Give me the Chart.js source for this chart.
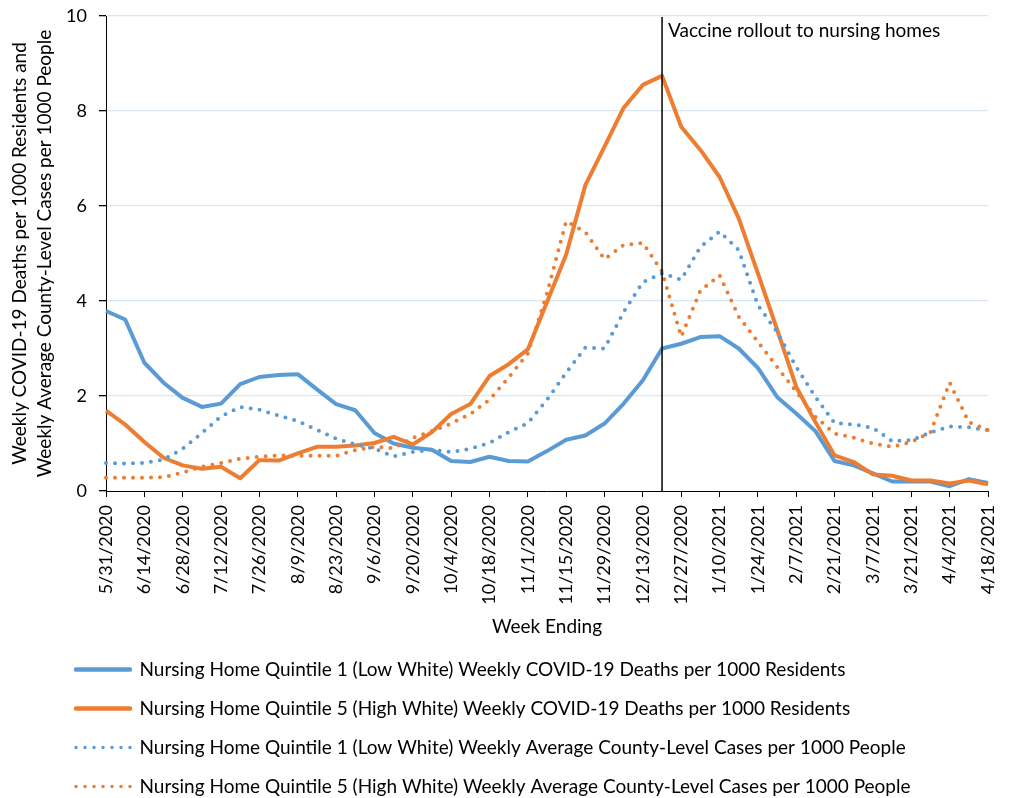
<!DOCTYPE html>
<html><head><meta charset="utf-8">
<script src="https://cdn.jsdelivr.net/npm/chart.js@4.4.1/dist/chart.umd.min.js"></script>
<style>html,body{margin:0;padding:0;background:#fff;}#wrap{width:1011px;height:798px;position:relative;}</style>
</head><body><div id="wrap"><canvas id="c" width="1011" height="798"></canvas></div>
<script>
const weekEnding = ['5/31/2020','6/7/2020','6/14/2020','6/21/2020','6/28/2020','7/5/2020','7/12/2020','7/19/2020','7/26/2020','8/2/2020','8/9/2020','8/16/2020','8/23/2020','8/30/2020','9/6/2020','9/13/2020','9/20/2020','9/27/2020','10/4/2020','10/11/2020','10/18/2020','10/25/2020','11/1/2020','11/8/2020','11/15/2020','11/22/2020','11/29/2020','12/6/2020','12/13/2020','12/20/2020','12/27/2020','1/3/2021','1/10/2021','1/17/2021','1/24/2021','1/31/2021','2/7/2021','2/14/2021','2/21/2021','2/28/2021','3/7/2021','3/14/2021','3/21/2021','3/28/2021','4/4/2021','4/11/2021','4/18/2021'];
const q1Deaths = [3.79,3.61,2.70,2.28,1.96,1.77,1.84,2.25,2.40,2.44,2.46,2.14,1.83,1.70,1.22,1.00,0.91,0.87,0.63,0.61,0.72,0.63,0.62,0.84,1.08,1.17,1.42,1.84,2.33,3.00,3.10,3.24,3.26,3.00,2.59,1.98,1.63,1.26,0.63,0.54,0.37,0.20,0.20,0.20,0.10,0.25,0.17];
const q5Deaths = [1.69,1.40,1.03,0.70,0.54,0.47,0.51,0.27,0.65,0.64,0.79,0.93,0.93,0.96,1.01,1.14,0.98,1.24,1.62,1.83,2.42,2.67,2.98,3.98,4.98,6.44,7.25,8.07,8.55,8.74,7.67,7.18,6.61,5.74,4.58,3.40,2.19,1.45,0.75,0.61,0.35,0.32,0.22,0.22,0.16,0.22,0.14];
const q1Cases = [0.59,0.58,0.59,0.66,0.89,1.22,1.57,1.77,1.71,1.59,1.47,1.29,1.10,0.98,0.89,0.73,0.82,0.87,0.82,0.89,1.01,1.24,1.43,1.92,2.49,3.02,3.00,3.77,4.40,4.58,4.45,5.14,5.46,5.07,3.91,3.35,2.61,1.98,1.43,1.40,1.33,1.05,1.07,1.23,1.36,1.34,1.28];
const q5Cases = [0.28,0.28,0.28,0.29,0.39,0.51,0.59,0.68,0.72,0.75,0.74,0.74,0.74,0.86,0.93,0.90,1.12,1.26,1.42,1.62,1.92,2.39,2.89,4.16,5.68,5.45,4.88,5.18,5.22,4.62,3.25,4.22,4.54,3.67,3.14,2.61,2.09,1.56,1.21,1.12,1.00,0.93,1.03,1.24,2.28,1.45,1.28];
const seriesNames = [
  'Nursing Home Quintile 1 (Low White) Weekly COVID-19 Deaths per 1000 Residents',
  'Nursing Home Quintile 5 (High White) Weekly COVID-19 Deaths per 1000 Residents',
  'Nursing Home Quintile 1 (Low White) Weekly Average County-Level Cases per 1000 People',
  'Nursing Home Quintile 5 (High White) Weekly Average County-Level Cases per 1000 People'
];
const yTitle = ['Weekly COVID-19 Deaths per 1000 Residents and','Weekly Average County-Level Cases per 1000 People'];
const xTitle = 'Week Ending';
const vaccineWeek = '12/20/2020';
const vaccineLabel = 'Vaccine rollout to nursing homes';

const FAM = 'Lato';
const BLUE = '#5B9BD5', ORANGE = '#ED7D31';
const DOT = [0, 9];

const vline = {
  id: 'vline',
  afterDatasetsDraw(chart) {
    const ctx = chart.ctx;
    const x = chart.scales.x.getPixelForValue(weekEnding.indexOf(vaccineWeek));
    const {top, bottom} = chart.chartArea;
    ctx.save();
    ctx.strokeStyle = '#000'; ctx.lineWidth = 1.5;
    ctx.beginPath(); ctx.moveTo(x, top + 1); ctx.lineTo(x, bottom); ctx.stroke();
    ctx.font = '19px ' + FAM; ctx.fillStyle = '#000'; ctx.textBaseline = 'alphabetic';
    ctx.fillText(vaccineLabel, x + 6, top + 21);
    ctx.restore();
  }
};
const legendTweak = {
  id: 'legendTweak',
  beforeInit(chart) {
    const lg = chart.legend;
    const of = lg.fit;
    lg.fit = function() { of.call(this); this.height -= 8; };
    const od = lg.draw;
    lg.draw = function(a) { this.ctx.save(); this.ctx.translate(52, 0); od.call(this, a); this.ctx.restore(); };
  }
};

new Chart(document.getElementById('c'), {
  type: 'line',
  data: {
    labels: weekEnding,
    datasets: [
      {label: seriesNames[0], data: q1Deaths, borderColor: BLUE, backgroundColor: BLUE, borderWidth: 4, borderDash: [], order: 4},
      {label: seriesNames[1], data: q5Deaths, borderColor: ORANGE, backgroundColor: ORANGE, borderWidth: 4, borderDash: [], order: 3},
      {label: seriesNames[2], data: q1Cases, borderColor: BLUE, backgroundColor: BLUE, borderWidth: 4, borderDash: DOT, borderCapStyle: 'round', order: 2},
      {label: seriesNames[3], data: q5Cases, borderColor: ORANGE, backgroundColor: ORANGE, borderWidth: 4, borderDash: DOT, borderCapStyle: 'round', order: 1}
    ]
  },
  options: {
    responsive: false, animation: false,
    layout: {padding: {top: 16, right: 23, left: 4, bottom: 0}},
    elements: {point: {radius: 0}, line: {tension: 0, borderJoinStyle: 'round'}},
    plugins: {
      tooltip: {enabled: false},
      legend: {
        position: 'bottom', align: 'start',
        labels: {
          font: {family: FAM, size: 19}, color: '#000', padding: 20, boxWidth: 54, boxHeight: 0,
          sort: (a, b) => a.datasetIndex - b.datasetIndex,
          generateLabels(chart) {
            const items = Chart.defaults.plugins.legend.labels.generateLabels(chart);
            items.forEach(it => {
              const ds = chart.data.datasets[it.datasetIndex];
              it.fillStyle = 'rgba(0,0,0,0)';
              it.lineWidth = ds.borderDash.length ? 3.5 : 4.5;
              it.lineCap = 'round';
            });
            return items;
          }
        }
      }
    },
    scales: {
      x: {
        type: 'category', offset: false,
        afterFit(s) { s.paddingLeft = 0; s.paddingRight = 0; s.height = 149; },
        grid: {display: true, drawOnChartArea: false, drawTicks: true, tickLength: 6, tickWidth: 1,
               tickColor: c => (c.index % 2 === 0 ? '#000' : 'rgba(0,0,0,0)')},
        border: {display: true, color: '#000', width: 1},
        ticks: {autoSkip: false, maxRotation: 90, minRotation: 90, padding: 8, color: '#000',
                font: {family: FAM, size: 18}, callback: (v, i) => (i % 2 === 0 ? weekEnding[i] : '')},
        title: {display: true, text: xTitle, color: '#000', font: {family: FAM, size: 19}, padding: {top: 3, bottom: 2}}
      },
      y: {
        min: 0, max: 10,
        afterFit(s) { s.paddingTop = 0; s.paddingBottom = 0; s.width = 102; },
        ticks: {stepSize: 2, padding: 12, color: '#000', font: {family: FAM, size: 18}},
        grid: {color: c => (c.tick && c.tick.value === 0 ? 'rgba(0,0,0,0)' : '#DAE6F4'), lineWidth: 1.3, tickColor: '#000', tickLength: 7},
        border: {display: true, color: '#000', width: 1},
        title: {display: true, text: yTitle, color: '#000', font: {family: FAM, size: 19, lineHeight: 1.3}, padding: {top: 4, bottom: 0}}
      }
    }
  },
  plugins: [vline, legendTweak]
});
</script></body></html>
